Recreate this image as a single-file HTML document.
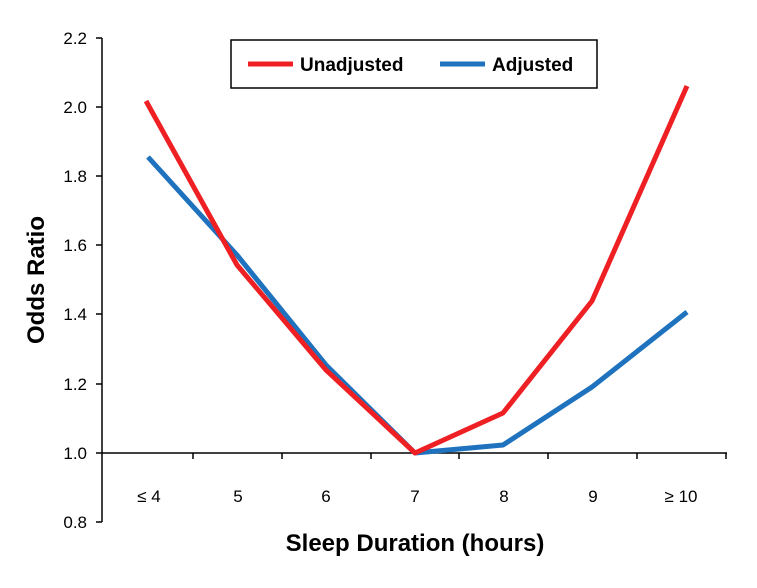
<!DOCTYPE html>
<html><head><style>body{margin:0;background:#fff}svg{display:block}</style></head><body>
<svg width="757" height="588" xmlns="http://www.w3.org/2000/svg" font-family="Liberation Sans, Arial, sans-serif">
<rect width="757" height="588" fill="#fff"/>
<g stroke="#000" stroke-width="1.5" fill="none">
<line x1="102" y1="38" x2="102" y2="522"/>
<line x1="102" y1="453" x2="727" y2="453"/>
<path d="M96 38H102M96 107H102M96 176H102M96 245H102M96 314H102M96 384H102M96 453H102M96 522H102"/>
<path d="M193 453V459M282 453V459M371 453V459M459 453V459M548 453V459M637 453V459M726 453V459"/>
</g>
<g font-size="17" fill="#000" text-anchor="end">
<text x="87" y="44">2.2</text><text x="87" y="113">2.0</text><text x="87" y="182">1.8</text><text x="87" y="251">1.6</text><text x="87" y="320">1.4</text><text x="87" y="390">1.2</text><text x="87" y="459">1.0</text><text x="87" y="528">0.8</text>
</g>
<g font-size="17" fill="#000" text-anchor="middle">
<text x="149" y="502">≤ 4</text><text x="238" y="502">5</text><text x="326" y="502">6</text><text x="415" y="502">7</text><text x="504" y="502">8</text><text x="593" y="502">9</text><text x="681" y="502">≥ 10</text>
</g>
<text x="415" y="551" font-size="24" font-weight="bold" text-anchor="middle">Sleep Duration (hours)</text>
<text transform="translate(44 280) rotate(-90)" font-size="24" font-weight="bold" text-anchor="middle">Odds Ratio</text>
<polyline points="148,157 237,255 326,365 415,453 503,445 592,387 687,312" fill="none" stroke="#1f72bd" stroke-width="5" stroke-linejoin="round"/>
<polyline points="146,101 237,265 326,370 415,453 503,413 592,301 687,86" fill="none" stroke="#ee2024" stroke-width="5" stroke-linejoin="round"/>
<rect x="231" y="40" width="366" height="48" fill="#fff" stroke="#000" stroke-width="1.5"/>
<line x1="248" y1="64" x2="293" y2="64" stroke="#ee2024" stroke-width="5"/>
<text x="300" y="71" font-size="19" font-weight="bold">Unadjusted</text>
<line x1="440" y1="64" x2="485" y2="64" stroke="#1f72bd" stroke-width="5"/>
<text x="492" y="71" font-size="19" font-weight="bold">Adjusted</text>
</svg>
</body></html>
